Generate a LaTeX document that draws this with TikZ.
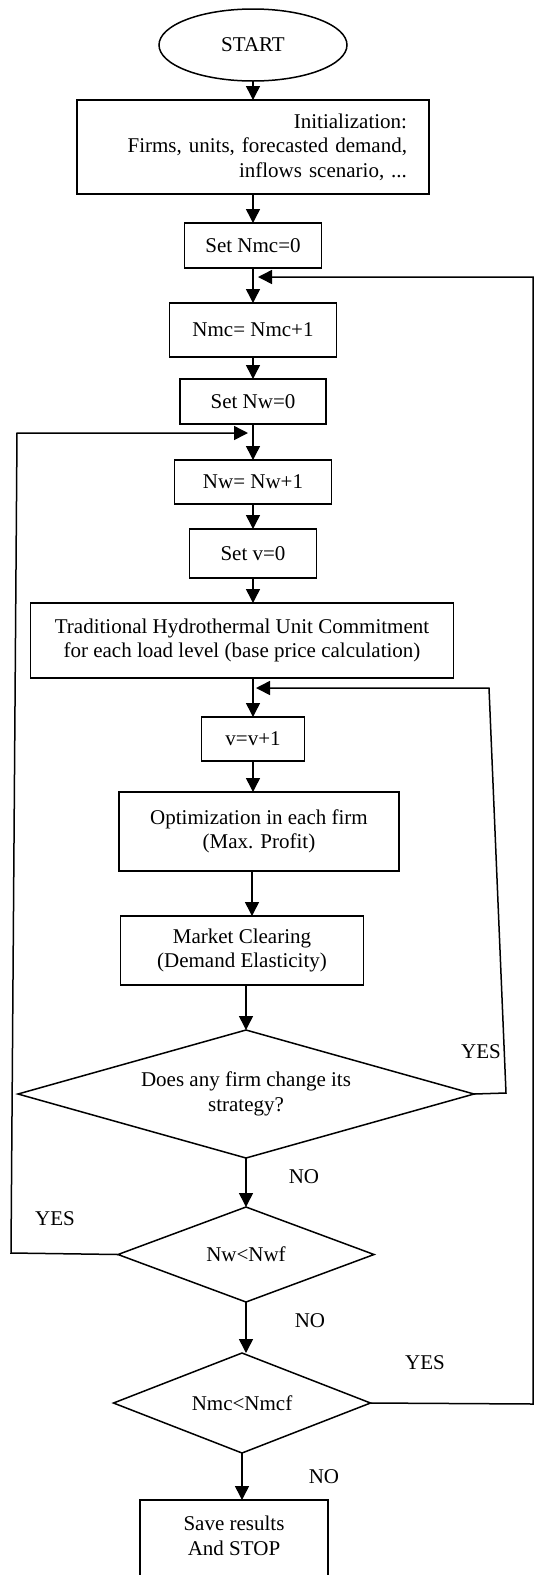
\documentclass[tikz,border=0pt]{standalone}
\usepackage{fontspec}
\setmainfont{Liberation Serif}
\usepackage{tikz}
\usetikzlibrary{positioning,shapes.geometric,arrows.meta}

\begin{document}
\begin{tikzpicture}[x=1pt, y=-1pt, node distance = 0mm, font=\fontsize{21}{24.5}\selectfont,
  block/.style args = {#1,#2}{draw, line width=1.5pt, minimum width=#1, minimum height=#2, inner sep=0pt, outer sep=0pt, align=center},
  decision/.style args = {#1,#2}{draw, diamond, aspect=2.5, line width=1.5pt, minimum width=#1, minimum height=#2, inner sep=0pt, outer sep=0pt, align=center},
  arr/.style = {line width=1.5pt, -{Triangle[length=14pt,width=14pt]}}]
\useasboundingbox (0,0) rectangle (535,1575);
\node (start) [draw, ellipse, line width=1.5pt, minimum width=188pt, minimum height=72pt, inner sep=0pt, outer sep=0pt] at (253,45) {START};
\node (init) [block={352pt,94pt}, below=19pt of start, text width=308pt, inner xsep=22pt, align=right]{Initialization:\\Firms, units, forecasted demand,\\inflows scenario, ...};
\node (setNmc) [block={137pt,45pt}, below=29pt of init]{Set Nmc=0};
\node (incNmc) [block={167pt,54pt}, below=35pt of setNmc]{Nmc= Nmc+1};
\node (setNw) [block={146pt,45pt}, below=22pt of incNmc]{Set Nw=0};
\node (incNw) [block={157pt,44pt}, below=36pt of setNw]{Nw= Nw+1};
\node (setV) [block={127pt,49pt}, below=25pt of incNw]{Set v=0};
\node (unitCom) [block={423pt,75pt}, below=25pt of setV, xshift=-11pt]{Traditional Hydrothermal Unit Commitment\\for each load level (base price calculation)};
\node (incV) [block={103pt,44pt}, below=39pt of unitCom, xshift=11pt]{v=v+1};
\node (optFirm) [block={280pt,79pt}, below=31pt of incV, xshift=6pt]{Optimization in each firm\\(Max. Profit)};
\node (mktClear) [block={243pt,69pt}, below=45pt of optFirm, xshift=-17pt]{Market Clearing\\(Demand Elasticity)};
\node (decStrat) [decision={456pt,128pt}, below=45pt of mktClear, xshift=4pt]{Does any firm change its\\strategy?};
\node (decNw) [decision={256pt,95pt}, below=49pt of decStrat]{Nw<Nwf};
\node (decNmc) [decision={257pt,100pt}, below=51pt of decNw, xshift=-4pt]{Nmc<Nmcf};
\node (saveStop) [block={188pt,96pt}, below=47pt of decNmc, xshift=-8pt]{Save results\\And STOP\\\mbox{}};
\draw[arr] (start.south) -- (start.south |- init.north);
\draw[arr] (setNmc.north |- init.south) -- (setNmc.north);
\draw[arr] (setNmc.south) -- (setNmc.south |- incNmc.north);
\draw[arr] (incNmc.south) -- (incNmc.south |- setNw.north);
\draw[arr] (setNw.south) -- (setNw.south |- incNw.north);
\draw[arr] (incNw.south) -- (incNw.south |- setV.north);
\draw[arr] (setV.south) -- (setV.south |- unitCom.north);
\draw[arr] (incV.north |- unitCom.south) -- (incV.north);
\draw[arr] (incV.south) -- (incV.south |- optFirm.north);
\draw[arr] ([xshift=-7pt]optFirm.south) -- ([xshift=-7pt]optFirm.south |- mktClear.north);
\draw[arr] (decStrat.north |- mktClear.south) -- (decStrat.north);
\draw[arr] (decStrat.south) -- (decNw.north);
\draw[arr] (decNw.south) -- (decNw.south |- decNmc.north);
\draw[arr] (decNmc.south) -- (decNmc.south |- saveStop.north);
\coordinate (iTop) at (489,688);
\coordinate (iBot) at (506,1093);
\draw[arr] (decStrat.east) -- (iBot) -- (iTop) -- ([xshift=3pt]incV.north |- iTop);
\coordinate (lTop) at (17,433);
\coordinate (lBot) at (11,1253);
\draw[arr] (decNw.west) -- (lBot) -- (lTop) -- ([xshift=-5pt]setNw.south |- lTop);
\coordinate (rTop) at (533,277);
\coordinate (rBot) at (533,1404);
\draw[arr] (decNmc.east) -- (rBot) -- (rTop) -- ([xshift=5pt]setNmc.south |- rTop);
\node (yesStrat) at (481,1052) {YES};
\node (noStrat) at (304,1177) {NO};
\node (yesNw) at (55,1219) {YES};
\node (noNw) at (310,1321) {NO};
\node (yesNmc) at (425,1363) {YES};
\node (noNmc) at (324,1477) {NO};
\end{tikzpicture}
\end{document}
